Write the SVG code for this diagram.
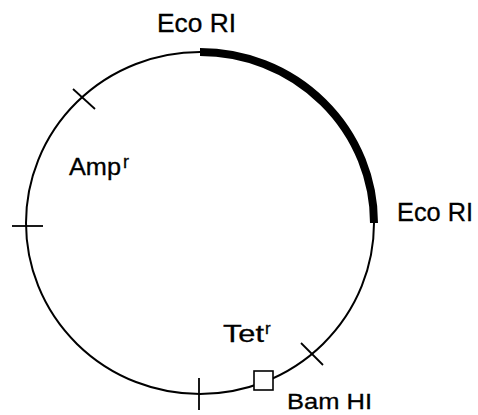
<svg xmlns="http://www.w3.org/2000/svg" width="478" height="415" viewBox="0 0 478 415">
<style>
.lbl{font-family:"Liberation Sans",Arial,sans-serif;fill:#000;stroke:#000;stroke-width:0.3;}
.thin{fill:none;stroke:#000;stroke-width:2;}
.tick{fill:none;stroke:#000;stroke-width:1.8;}
</style>
<rect width="478" height="415" fill="#fff"/>
<g id="plasmid">
<ellipse class="thin" cx="200" cy="223" rx="174" ry="171"/>
<path d="M200,52 A174,171 0 0 1 374,223" fill="none" stroke="#000" stroke-width="8"/>
</g>
<g id="connectors">
<line class="tick" x1="12" y1="226" x2="43" y2="226"/>
<line class="tick" x1="73" y1="89" x2="95" y2="109"/>
<line class="tick" x1="301" y1="343" x2="323" y2="365"/>
<line class="tick" x1="199" y1="378" x2="199" y2="410"/>
</g>
<g id="bamhi-site">
<rect x="254" y="371" width="19" height="19" fill="#fff" stroke="#000" stroke-width="1.6"/>
</g>
<g id="ecori-top"><text class="lbl" x="157" y="32" font-size="25" textLength="79" lengthAdjust="spacingAndGlyphs">Eco RI</text></g>
<g id="ecori-right"><text class="lbl" x="397" y="221" font-size="25" textLength="76" lengthAdjust="spacingAndGlyphs">Eco RI</text></g>
<g id="amp"><text class="lbl" x="69" y="175" font-size="23" textLength="52" lengthAdjust="spacingAndGlyphs">Amp</text><text class="lbl" x="123" y="168" font-size="18">r</text></g>
<g id="tet"><text class="lbl" x="223" y="342" font-size="23" textLength="41" lengthAdjust="spacingAndGlyphs">Tet</text><text class="lbl" x="265" y="334" font-size="17">r</text></g>
<g id="bamhi"><text class="lbl" x="287" y="409" font-size="22" textLength="85" lengthAdjust="spacingAndGlyphs">Bam HI</text></g>
</svg>
